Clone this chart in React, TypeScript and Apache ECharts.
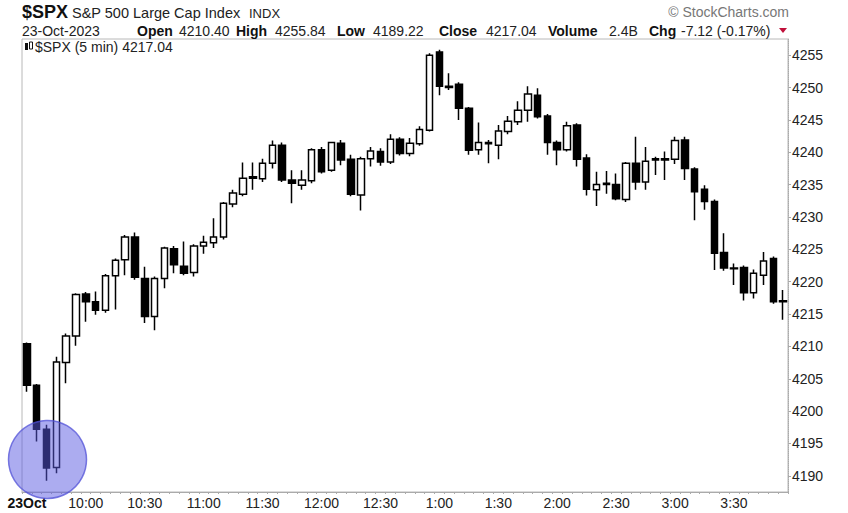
import React, { useEffect, useRef } from "react";
import * as echarts from "echarts";

const times = [
  "9:30","9:35","9:40","9:45","9:50","9:55",
  "10:00","10:05","10:10","10:15","10:20","10:25",
  "10:30","10:35","10:40","10:45","10:50","10:55",
  "11:00","11:05","11:10","11:15","11:20","11:25",
  "11:30","11:35","11:40","11:45","11:50","11:55",
  "12:00","12:05","12:10","12:15","12:20","12:25",
  "12:30","12:35","12:40","12:45","12:50","12:55",
  "1:00","1:05","1:10","1:15","1:20","1:25",
  "1:30","1:35","1:40","1:45","1:50","1:55",
  "2:00","2:05","2:10","2:15","2:20","2:25",
  "2:30","2:35","2:40","2:45","2:50","2:55",
  "3:00","3:05","3:10","3:15","3:20","3:25",
  "3:30","3:35","3:40","3:45","3:50","3:55",
];

const opens = [
  4210.4, 4204.0, 4197.2, 4191.3, 4207.5, 4211.6, 4218.1, 4216.9, 4215.6, 4220.9,
  4223.4, 4226.9, 4220.5, 4214.6, 4220.5, 4225.1, 4222.4, 4221.4, 4225.5, 4226.0,
  4226.9, 4232.0, 4233.5, 4236.0, 4235.9, 4238.3, 4241.1, 4235.7, 4234.9, 4235.6,
  4240.4, 4237.2, 4241.4, 4238.9, 4233.4, 4239.0, 4240.1, 4238.5, 4242.0, 4239.8,
  4241.3, 4243.4, 4255.5, 4250.2, 4250.5, 4246.8, 4240.4, 4241.5, 4241.1, 4243.2,
  4244.7, 4246.5, 4248.8, 4245.6, 4241.5, 4240.4, 4244.2, 4239.1, 4234.2, 4235.0,
  4235.0, 4232.7, 4238.3, 4235.4, 4238.8, 4239.0, 4238.9, 4241.9, 4237.4, 4234.3,
  4232.4, 4224.5, 4222.1, 4222.2, 4218.3, 4221.0, 4223.6, 4216.9,
];
const highs = [
  4210.6, 4204.2, 4197.9, 4208.4, 4212.0, 4218.2, 4218.4, 4218.5, 4221.2, 4223.6,
  4227.2, 4227.6, 4222.3, 4220.8, 4225.4, 4225.5, 4226.2, 4225.8, 4227.1, 4229.8,
  4232.3, 4234.2, 4238.4, 4238.4, 4239.0, 4241.8, 4241.5, 4237.2, 4237.2, 4240.6,
  4240.8, 4241.6, 4241.9, 4239.6, 4239.3, 4240.8, 4240.6, 4242.8, 4242.3, 4242.2,
  4244.0, 4255.3, 4255.84, 4252.2, 4250.8, 4247.0, 4244.6, 4241.9, 4244.2, 4245.6,
  4247.9, 4250.2, 4249.9, 4245.9, 4241.8, 4244.7, 4244.5, 4239.7, 4237.0, 4237.1,
  4236.7, 4238.5, 4242.4, 4240.8, 4239.3, 4240.1, 4242.4, 4242.4, 4237.7, 4234.9,
  4232.7, 4227.5, 4222.8, 4222.5, 4221.9, 4224.6, 4223.9, 4218.7,
];
const lows = [
  4203.0, 4195.3, 4189.22, 4190.4, 4204.3, 4210.1, 4213.8, 4214.9, 4215.2, 4215.7,
  4221.0, 4220.3, 4213.6, 4212.5, 4219.0, 4221.3, 4221.0, 4220.8, 4224.3, 4225.2,
  4226.5, 4231.5, 4233.2, 4234.2, 4235.4, 4237.5, 4235.4, 4232.1, 4234.2, 4235.2,
  4236.7, 4237.0, 4238.0, 4233.2, 4231.0, 4237.8, 4237.9, 4238.2, 4239.5, 4239.4,
  4241.0, 4243.2, 4248.8, 4249.6, 4245.0, 4239.6, 4239.6, 4238.3, 4238.9, 4242.8,
  4244.2, 4244.7, 4245.2, 4239.6, 4238.0, 4240.1, 4237.8, 4233.3, 4231.7, 4233.6,
  4232.6, 4232.3, 4234.2, 4234.2, 4236.5, 4235.7, 4238.2, 4235.7, 4229.5, 4231.1,
  4221.8, 4221.7, 4219.5, 4217.1, 4217.4, 4219.5, 4216.6, 4214.1,
];
const closes = [
  4204.0, 4197.2, 4191.2, 4207.6, 4211.6, 4218.0, 4216.9, 4215.6, 4220.9, 4223.3,
  4226.9, 4220.7, 4214.6, 4220.5, 4225.2, 4222.6, 4221.3, 4225.5, 4226.1, 4226.9,
  4232.1, 4233.7, 4236.0, 4236.2, 4238.3, 4241.1, 4235.7, 4235.2, 4235.7, 4240.4,
  4237.0, 4241.5, 4238.8, 4233.5, 4239.0, 4240.2, 4238.5, 4242.0, 4239.8, 4241.4,
  4243.5, 4255.0, 4250.2, 4250.0, 4246.8, 4240.3, 4241.5, 4241.3, 4243.3, 4244.8,
  4246.5, 4249.0, 4245.5, 4241.5, 4240.4, 4244.1, 4238.9, 4234.3, 4235.0, 4235.2,
  4232.8, 4238.3, 4235.4, 4238.6, 4239.0, 4238.8, 4241.8, 4237.5, 4233.9, 4232.4,
  4224.4, 4222.1, 4222.0, 4218.3, 4221.3, 4223.2, 4216.9, 4217.04,
];

const xTickLabels = ["23Oct","10:00","10:30","11:00","11:30","12:00","12:30","1:00","1:30","2:00","2:30","3:00","3:30"];
const yTickValues = [4190,4195,4200,4205,4210,4215,4220,4225,4230,4235,4240,4245,4250,4255];

const FONT = "'Liberation Sans', Arial, sans-serif";

export default function App() {
  const ref = useRef<HTMLDivElement>(null);
  useEffect(() => {
    document.body.style.margin = "0";
    if (!ref.current) return;
    const chart = echarts.init(ref.current, null, { renderer: "svg" });
    const data = opens.map((o, i) => [o, closes[i], lows[i], highs[i]]);
    const txt = (text: string, x: number, y: number, font: string, fill = "#111", align = "left") => ({
      type: "text",
      x,
      y,
      style: { text, font, fill, textAlign: align, textVerticalAlign: "middle" },
      z: 50,
    });
    chart.setOption({
      animation: false,
      backgroundColor: "#fff",
      grid: {
        left: 22,
        right: 60,
        top: 39,
        bottom: 21,
        show: true,
        borderColor: "#b8b8b8",
        borderWidth: 1,
        backgroundColor: "transparent",
      },
      xAxis: {
        type: "category",
        data: times,
        boundaryGap: true,
        axisLine: { show: true, lineStyle: { color: "#aaa", width: 1 } },
        axisTick: { show: true, interval: 0, length: 2, lineStyle: { color: "#aaa" } },
        axisLabel: {
          interval: (index: number) => index % 6 === 0,
          formatter: (_v: string, index: number) => {
            const l = xTickLabels[Math.floor(index / 6)] ?? "";
            return index === 0 ? `{b|${l}}` : l;
          },
          color: "#222",
          fontSize: 14,
          fontFamily: FONT,
          margin: 4,
          rich: { b: { fontWeight: "bold", fontSize: 14, fontFamily: FONT, color: "#111" } },
        },
        splitLine: { show: false },
      },
      yAxis: {
        type: "value",
        position: "right",
        min: 4187.5,
        max: 4257.5,
        scale: true,
        axisLine: { show: true, lineStyle: { color: "#aaa", type: "dotted" } },
        axisTick: { show: true, length: 3, customValues: yTickValues, lineStyle: { color: "#aaa" } },
        axisLabel: {
          customValues: yTickValues,
          formatter: (v: number) => String(Math.round(v)),
          color: "#222",
          fontSize: 14,
          fontFamily: FONT,
          margin: 4,
        },
        splitLine: { show: false },
      },
      series: [
        {
          type: "candlestick",
          data,
          barWidth: 7,
          itemStyle: {
            color: "#ffffff",
            color0: "#000000",
            borderColor: "#000000",
            borderColor0: "#000000",
            borderColorDoji: "#000000",
            borderWidth: 1.5,
          },
        },
      ],
      graphic: [
        txt("$SPX", 22, 12, `bold 18px ${FONT}`),
        txt("S&P 500 Large Cap Index", 72, 13, `14.5px ${FONT}`, "#222"),
        txt("INDX", 249, 13, `13px ${FONT}`, "#222"),
        txt("© StockCharts.com", 789, 12, `14px ${FONT}`, "#777", "right"),
        txt("23-Oct-2023", 22, 31, `14px ${FONT}`, "#222"),
        txt("Open", 137, 31, `bold 14px ${FONT}`),
        txt("4210.40", 179, 31, `14px ${FONT}`, "#222"),
        txt("High", 236, 31, `bold 14px ${FONT}`),
        txt("4255.84", 275, 31, `14px ${FONT}`, "#222"),
        txt("Low", 337, 31, `bold 14px ${FONT}`),
        txt("4189.22", 373, 31, `14px ${FONT}`, "#222"),
        txt("Close", 439, 31, `bold 14px ${FONT}`),
        txt("4217.04", 486, 31, `14px ${FONT}`, "#222"),
        txt("Volume", 548, 31, `bold 14px ${FONT}`),
        txt("2.4B", 609, 31, `14px ${FONT}`, "#222"),
        txt("Chg", 649, 31, `bold 14px ${FONT}`),
        txt("-7.12 (-0.17%)", 681, 31, `14px ${FONT}`, "#222"),
        {
          type: "polygon",
          shape: { points: [[779, 28], [787, 28], [783, 33]] },
          style: { fill: "#c0103a" },
          z: 50,
        },
        {
          type: "rect",
          shape: { x: 25, y: 43, width: 3, height: 7 },
          style: { fill: "#111" },
          z: 50,
        },
        {
          type: "rect",
          shape: { x: 29.5, y: 42, width: 3, height: 7 },
          style: { fill: "#fff", stroke: "#111", lineWidth: 1 },
          z: 50,
        },
        txt("$SPX (5 min) 4217.04", 35, 47, `14px ${FONT}`, "#222"),
        {
          type: "circle",
          shape: { cx: 47.5, cy: 459.5, r: 39 },
          style: { fill: "rgba(90,90,225,0.5)", stroke: "rgba(80,80,215,0.75)", lineWidth: 1.5 },
          z: 100,
        },
      ],
    });
    return () => chart.dispose();
  }, []);
  return <div ref={ref} style={{ width: 848, height: 513 }} />;
}
